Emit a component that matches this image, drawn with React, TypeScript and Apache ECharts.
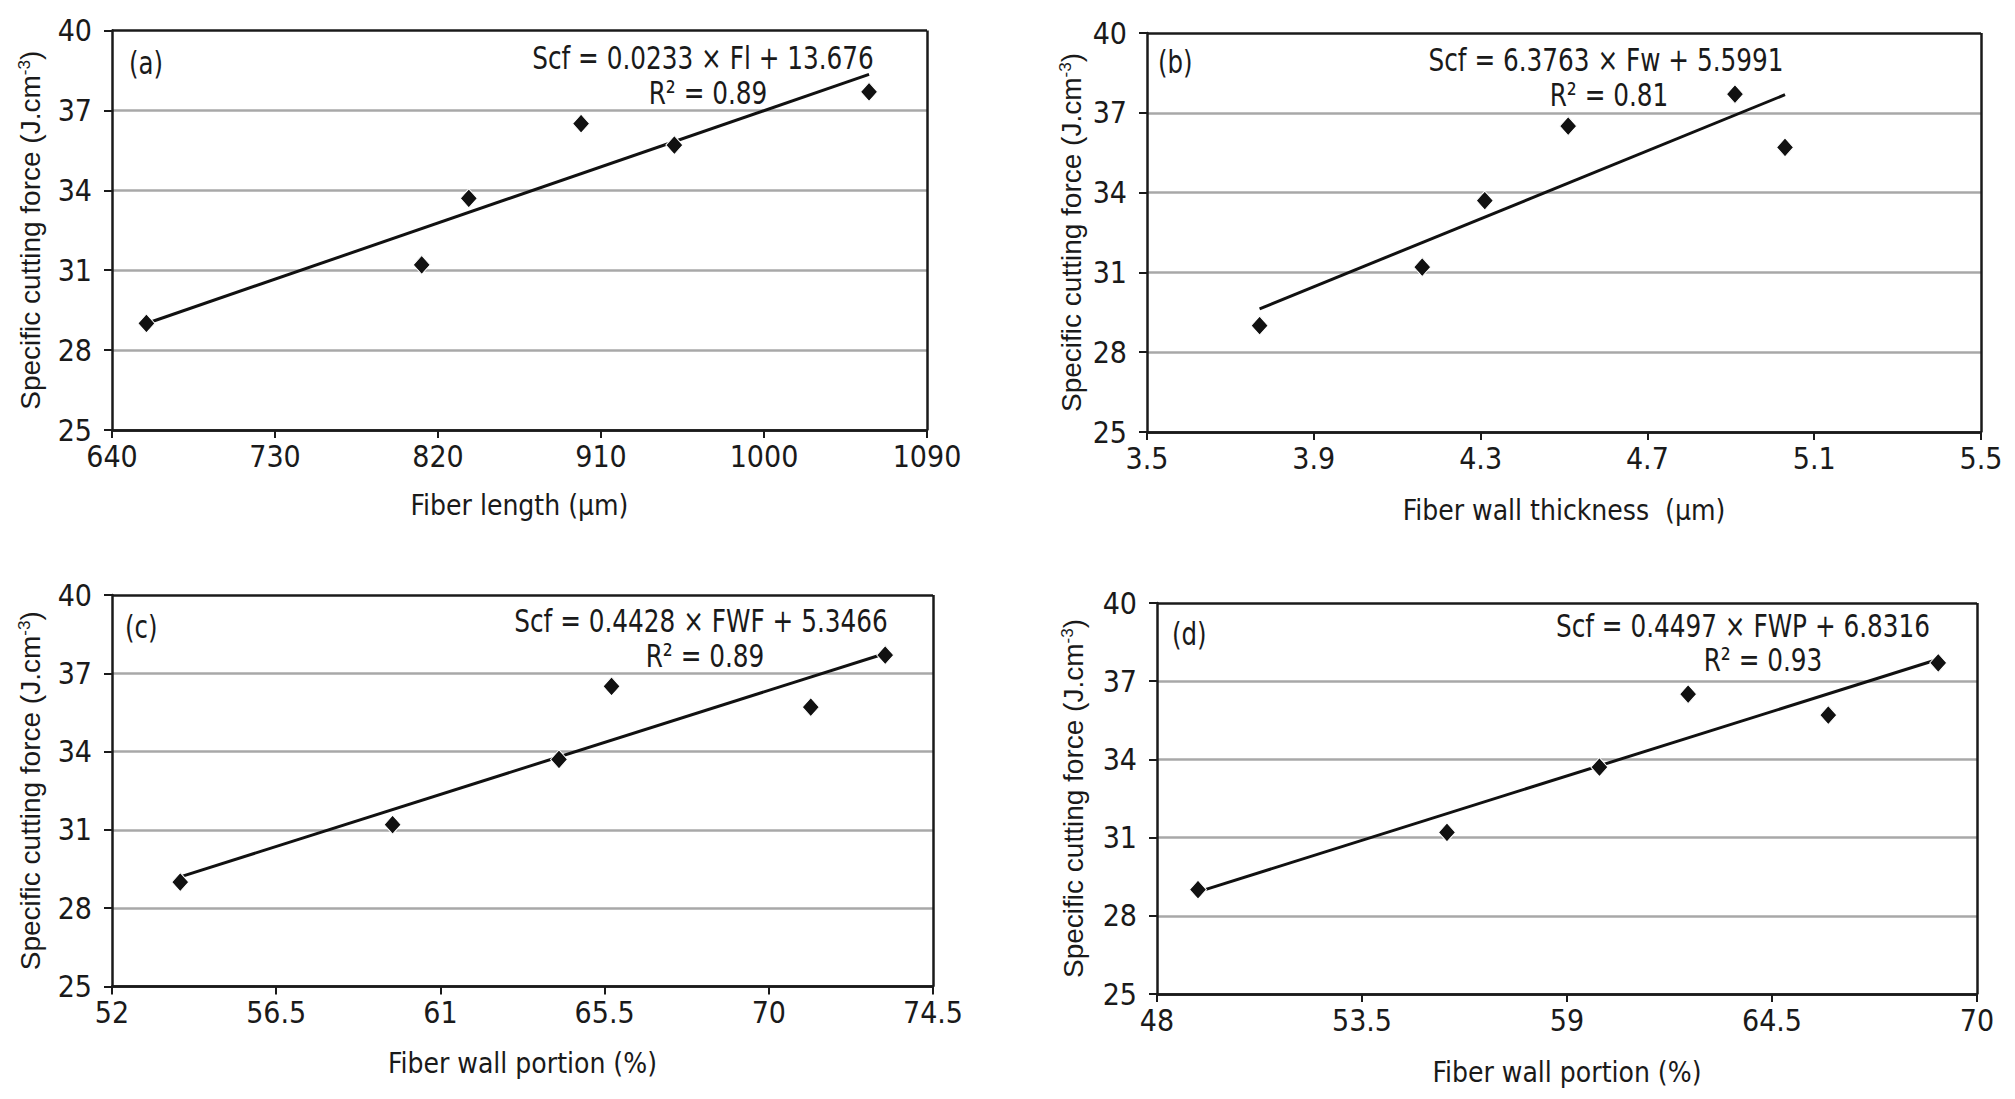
import React, { useEffect, useRef } from "react";
import * as echarts from "echarts";

// ---- data ----
const cuttingForce = [29.0, 31.2, 33.7, 36.5, 35.7, 37.7];
const fiberLength = [659, 811, 837, 899, 950.5, 1058];
const wallThickness = [3.77, 4.16, 4.31, 4.51, 5.03, 4.91];
const wallFraction = [53.87, 59.69, 64.25, 65.69, 71.15, 73.19];
const wallPortion = [49.1, 55.78, 59.87, 62.25, 66.01, 68.96];

const trendA = [[659, 29.0], [1058, 38.35]];
const trendB = [[3.77, 29.63], [5.03, 37.68]];
const trendC = [[53.87, 29.2], [73.19, 37.76]];
const trendD = [[49.1, 28.92], [68.96, 37.84]];

const yTicks = [25, 28, 31, 34, 37, 40];
const xTicksA = [640, 730, 820, 910, 1000, 1090];
const xTicksB = [3.5, 3.9, 4.3, 4.7, 5.1, 5.5];
const xTicksC = [52, 56.5, 61, 65.5, 70, 74.5];
const xTicksD = [48, 53.5, 59, 64.5, 70];

const panelLetters = ["(a)", "(b)", "(c)", "(d)"];
const xTitles = ["Fiber length (µm)", "Fiber wall thickness  (µm)", "Fiber wall portion (%)", "Fiber wall portion (%)"];
const eqLine1 = [
  "Scf = 0.0233 × Fl + 13.676",
  "Scf = 6.3763 × Fw + 5.5991",
  "Scf = 0.4428 × FWF + 5.3466",
  "Scf = 0.4497 × FWP + 6.8316",
];
const eqLine2 = ["R² = 0.89", "R² = 0.81", "R² = 0.89", "R² = 0.93"];
const yTitle = "Specific cutting force (J.cm{s|-3})";

const FONT_N = "'Liberation Sans Narrow', 'DejaVu Sans Condensed', sans-serif";
const FONT_R = "'Liberation Sans', Arial, sans-serif";
const INK = "#1a1a1a";
const GRIDC = "#a8a8a8";

export default function App() {
  const ref = useRef<HTMLDivElement>(null);
  useEffect(() => {
    document.body.style.margin = "0";
    if (!ref.current) return;
    const chart = echarts.init(ref.current, undefined, { renderer: "svg" });

    const xs = [fiberLength, wallThickness, wallFraction, wallPortion];
    const trends = [trendA, trendB, trendC, trendD];
    const xt = [xTicksA, xTicksB, xTicksC, xTicksD];
    const grids = [
      { left: 112, top: 30.5, width: 815, height: 399.5 },
      { left: 1147, top: 33, width: 834, height: 399 },
      { left: 112, top: 595, width: 821, height: 391.5 },
      { left: 1157, top: 603, width: 820, height: 391 },
    ];
    const yNameGap = [68, 62, 68, 70];
    const xNameGap = [61, 64, 63, 64];
    const letterPos = [[129, 63], [1158, 62], [125, 627], [1172, 634]];
    const eq1Pos = [[703, 58], [1606, 60], [701, 621], [1743, 626]];
    const eq2Pos = [[708, 93], [1609, 95], [705, 656], [1763, 660]];

    const yOff = yTicks[0];
    const yInt = yTicks[1] - yTicks[0];
    const ySpan = yTicks[yTicks.length - 1] - yOff;
    const yColors = yTicks.map((_, i) => (i === 0 || i === yTicks.length - 1 ? INK : GRIDC));

    const xAxis: any[] = [];
    const yAxis: any[] = [];
    const series: any[] = [];
    const graphic: any[] = [];

    for (let i = 0; i < 4; i++) {
      const ticks = xt[i];
      const off = ticks[0];
      const step = ticks[1] - ticks[0];
      const span = ticks[ticks.length - 1] - off;
      const xColors = ticks.map((_, k) => (k === ticks.length - 1 ? INK : "rgba(0,0,0,0)"));
      xAxis.push({
        gridIndex: i,
        type: "value",
        min: 0,
        max: span,
        interval: step,
        axisLine: { show: true, onZero: false, lineStyle: { color: INK, width: 2.5 } },
        axisTick: { show: true, length: 8, lineStyle: { color: INK, width: 2 } },
        axisLabel: {
          formatter: (v: number) => String(Math.round((v + off) * 10) / 10),
          fontFamily: FONT_N,
          fontSize: 30,
          color: INK,
          margin: 11,
        },
        splitLine: { show: true, lineStyle: { color: xColors, width: 2.5 } },
        name: xTitles[i],
        nameLocation: "middle",
        nameGap: xNameGap[i],
        nameTextStyle: { fontFamily: FONT_N, fontSize: 28, color: INK },
      });
      yAxis.push({
        gridIndex: i,
        type: "value",
        min: 0,
        max: ySpan,
        interval: yInt,
        axisLine: { show: true, onZero: false, lineStyle: { color: INK, width: 2.5 } },
        axisTick: { show: true, length: 8, lineStyle: { color: INK, width: 2 } },
        axisLabel: {
          formatter: (v: number) => String(Math.round(v + yOff)),
          fontFamily: FONT_N,
          fontSize: 30,
          color: INK,
          margin: 20,
        },
        splitLine: { show: true, lineStyle: { color: yColors, width: 2.5 } },
        name: yTitle,
        nameLocation: "middle",
        nameGap: yNameGap[i],
        nameTextStyle: {
          fontFamily: FONT_R,
          fontSize: 28,
          color: INK,
          rich: { s: { fontFamily: FONT_R, fontSize: 17, color: INK, verticalAlign: "top" } },
        },
      });
      series.push({
        type: "line",
        xAxisIndex: i,
        yAxisIndex: i,
        data: trends[i].map((p) => [p[0] - off, p[1] - yOff]),
        symbol: "none",
        lineStyle: { color: "#111", width: 3 },
        z: 2,
        silent: true,
      });
      series.push({
        type: "scatter",
        xAxisIndex: i,
        yAxisIndex: i,
        data: xs[i].map((x, k) => [x - off, cuttingForce[k] - yOff]),
        symbol: "diamond",
        symbolSize: [17, 19],
        itemStyle: { color: "#111", borderColor: "#fff", borderWidth: 1, opacity: 1 },
        z: 3,
      });
      graphic.push({
        type: "text",
        x: letterPos[i][0],
        y: letterPos[i][1],
        scaleX: 0.85,
        style: { text: panelLetters[i], fontFamily: FONT_N, fontSize: 32, fill: INK, align: "left", verticalAlign: "middle" },
      });
      graphic.push({
        type: "text",
        x: eq1Pos[i][0],
        y: eq1Pos[i][1],
        scaleX: 0.86,
        style: { text: eqLine1[i], fontFamily: FONT_N, fontSize: 32, fill: INK, align: "center", verticalAlign: "middle" },
      });
      graphic.push({
        type: "text",
        x: eq2Pos[i][0],
        y: eq2Pos[i][1],
        scaleX: 0.86,
        style: { text: eqLine2[i], fontFamily: FONT_N, fontSize: 32, fill: INK, align: "center", verticalAlign: "middle" },
      });
    }

    chart.setOption({
      animation: false,
      backgroundColor: "#ffffff",
      grid: grids.map((g) => ({ ...g, containLabel: false })),
      xAxis,
      yAxis,
      series,
      graphic,
    });
    return () => chart.dispose();
  }, []);
  return <div ref={ref} style={{ width: 2015, height: 1099 }} />;
}
